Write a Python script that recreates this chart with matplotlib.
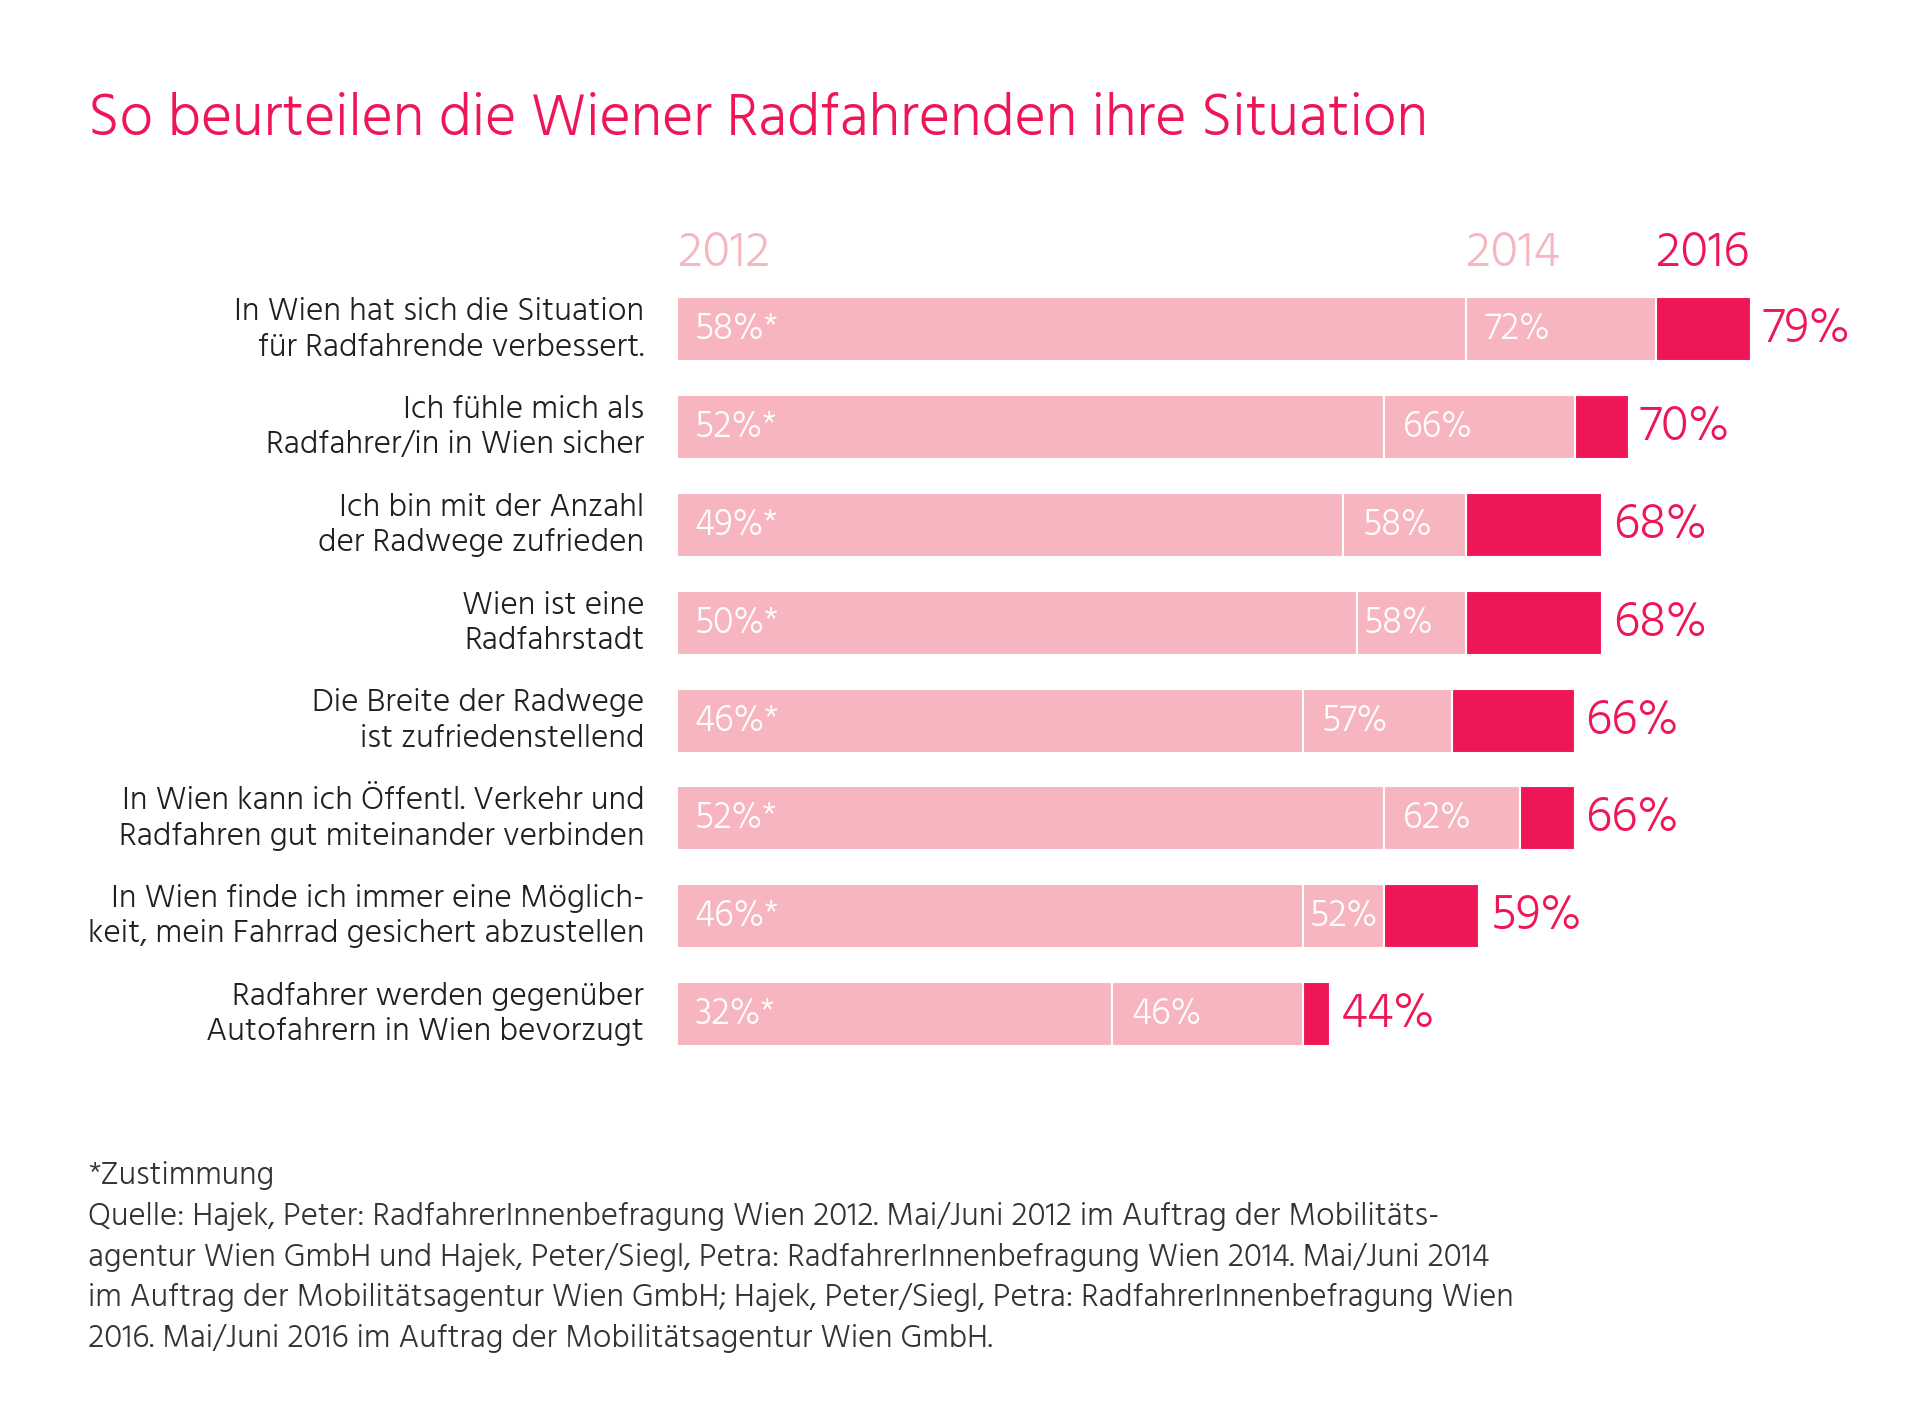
import matplotlib
matplotlib.use("Agg")
import matplotlib.pyplot as plt
from matplotlib.font_manager import FontProperties

# data (values in %)
categories = [
    "In Wien hat sich die Situation\nfür Radfahrende verbessert.",
    "Ich fühle mich als\nRadfahrer/in in Wien sicher",
    "Ich bin mit der Anzahl\nder Radwege zufrieden",
    "Wien ist eine\nRadfahrstadt",
    "Die Breite der Radwege\nist zufriedenstellend",
    "In Wien kann ich Öffentl. Verkehr und\nRadfahren gut miteinander verbinden",
    "In Wien finde ich immer eine Möglich-\nkeit, mein Fahrrad gesichert abzustellen",
    "Radfahrer werden gegenüber\nAutofahrern in Wien bevorzugt",
]
v2012 = [58, 52, 49, 50, 46, 52, 46, 32]
v2014 = [72, 66, 58, 58, 57, 62, 52, 46]
v2016 = [79, 70, 68, 68, 66, 66, 59, 44]
years = ["2012", "2014", "2016"]

title = "So beurteilen die Wiener Radfahrenden ihre Situation"
footnote = [
    "*Zustimmung",
    "Quelle: Hajek, Peter: RadfahrerInnenbefragung Wien 2012. Mai/Juni 2012 im Auftrag der Mobilitäts-",
    "agentur Wien GmbH und Hajek, Peter/Siegl, Petra: RadfahrerInnenbefragung Wien 2014. Mai/Juni 2014",
    "im Auftrag der Mobilitätsagentur Wien GmbH; Hajek, Peter/Siegl, Petra: RadfahrerInnenbefragung Wien",
    "2016. Mai/Juni 2016 im Auftrag der Mobilitätsagentur Wien GmbH.",
]

LIGHT = "#f7b5c0"
DARK = "#ee1656"
TEXT = "#231f20"


def font(size, weight=300):
    return FontProperties(family="Hind", weight=weight, size=size)


W, H = 1920, 1427
fig = plt.figure(figsize=(W / 100, H / 100), dpi=100)

# axes placed so that 1 % = 13.6 px, rows 97.8 px apart
x0 = 677
px_per = 13.6
row_h = 97.8
top = 329.4 - row_h / 2
n = len(categories)
ax = fig.add_axes([x0 / W, 1 - (top + n * row_h) / H, (W - x0) / W, n * row_h / H])
ax.set_xlim(0, (W - x0) / px_per)
ax.set_ylim(n - 0.5, -0.5)
ax.axis("off")

ys = list(range(n))
bh = 0.655
w2014 = [b - a for a, b in zip(v2012, v2014)]
# 2016 segment: growth over 2014, or a small marker when the value fell
start16 = v2014
w2016 = [c - b if c > b else 2 for b, c in zip(v2014, v2016)]

ax.barh(ys, v2012, height=bh, color=LIGHT, edgecolor="white", linewidth=1.5)
ax.barh(ys, w2014, left=v2012, height=bh, color=LIGHT, edgecolor="white", linewidth=1.5)
ax.barh(ys, w2016, left=start16, height=bh, color=DARK, edgecolor="white", linewidth=1.5)

for i in ys:
    ax.text(1.3, i, f"{v2012[i]}%*", color="white", va="center", ha="left",
            fontproperties=font(27))
    pad = 1.4 if w2014[i] > 8 else 0.5
    ax.text(v2012[i] + pad, i, f"{v2014[i]}%", color="white", va="center", ha="left",
            fontproperties=font(27))
    ax.text(start16[i] + w2016[i] + 0.8, i, f"{v2016[i]}%", color=DARK, va="center",
            ha="left", fontproperties=font(36))
    ax.text(-2.4, i, categories[i], color=TEXT, va="center", ha="right",
            linespacing=1.28, fontproperties=font(24), clip_on=False)

# year headers above the first row, at the segment starts
head_x = [0.1, v2012[0], v2014[0]]
head_c = [LIGHT, LIGHT, DARK]
for x, lab, c in zip(head_x, years, head_c):
    ax.text(x, -0.78, lab, color=c, va="center", ha="left", fontproperties=font(36),
            clip_on=False)

fig.text(88 / W, 1 - 135 / H, title, color=DARK, va="baseline", ha="left",
         fontproperties=font(43))

for k, line in enumerate(footnote):
    fig.text(88 / W, 1 - (1184 + k * 40.8) / H, line, color="#333333", va="baseline",
             ha="left", fontproperties=font(23.7))

fig.savefig("out.png", dpi=100, facecolor="white")
